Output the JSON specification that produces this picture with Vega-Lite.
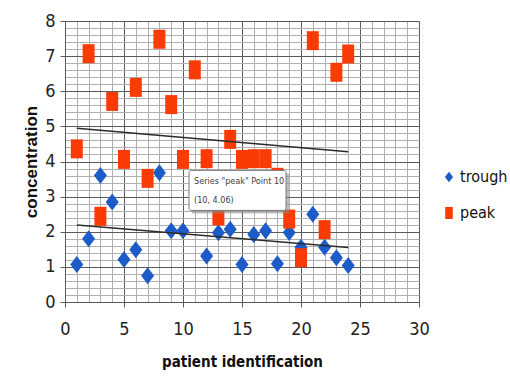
{
  "$schema": "https://vega.github.io/schema/vega-lite/v6.json",
  "width": 354,
  "height": 281,
  "autosize": {"type": "none"},
  "padding": {"left": 65, "top": 21, "right": 91, "bottom": 82},
  "background": "white",
  "config": {
    "view": {"stroke": null},
    "font": "Liberation Sans Narrow, DejaVu Sans Condensed, sans-serif"
  },
  "datasets": {
    "points": [
      {"x": 1, "series": "trough", "value": 1.07},
      {"x": 2, "series": "trough", "value": 1.8},
      {"x": 3, "series": "trough", "value": 3.6},
      {"x": 4, "series": "trough", "value": 2.85},
      {"x": 5, "series": "trough", "value": 1.21},
      {"x": 6, "series": "trough", "value": 1.49},
      {"x": 7, "series": "trough", "value": 0.75},
      {"x": 8, "series": "trough", "value": 3.68},
      {"x": 9, "series": "trough", "value": 2.03},
      {"x": 10, "series": "trough", "value": 2.03},
      {"x": 11, "series": "trough", "value": 3.1},
      {"x": 12, "series": "trough", "value": 1.31},
      {"x": 13, "series": "trough", "value": 1.97},
      {"x": 14, "series": "trough", "value": 2.07},
      {"x": 15, "series": "trough", "value": 1.07},
      {"x": 16, "series": "trough", "value": 1.92},
      {"x": 17, "series": "trough", "value": 2.03},
      {"x": 18, "series": "trough", "value": 1.09},
      {"x": 19, "series": "trough", "value": 1.98},
      {"x": 20, "series": "trough", "value": 1.56},
      {"x": 21, "series": "trough", "value": 2.5},
      {"x": 22, "series": "trough", "value": 1.56},
      {"x": 23, "series": "trough", "value": 1.26},
      {"x": 24, "series": "trough", "value": 1.04},
      {"x": 1, "series": "peak", "value": 4.36},
      {"x": 2, "series": "peak", "value": 7.07},
      {"x": 3, "series": "peak", "value": 2.44},
      {"x": 4, "series": "peak", "value": 5.71},
      {"x": 5, "series": "peak", "value": 4.06},
      {"x": 6, "series": "peak", "value": 6.11},
      {"x": 7, "series": "peak", "value": 3.52},
      {"x": 8, "series": "peak", "value": 7.48},
      {"x": 9, "series": "peak", "value": 5.62},
      {"x": 10, "series": "peak", "value": 4.06},
      {"x": 11, "series": "peak", "value": 6.61},
      {"x": 12, "series": "peak", "value": 4.08},
      {"x": 13, "series": "peak", "value": 2.45},
      {"x": 14, "series": "peak", "value": 4.63},
      {"x": 15, "series": "peak", "value": 4.06},
      {"x": 16, "series": "peak", "value": 4.08},
      {"x": 17, "series": "peak", "value": 4.08},
      {"x": 18, "series": "peak", "value": 3.55},
      {"x": 19, "series": "peak", "value": 2.36},
      {"x": 20, "series": "peak", "value": 1.26},
      {"x": 21, "series": "peak", "value": 7.44},
      {"x": 22, "series": "peak", "value": 2.06},
      {"x": 23, "series": "peak", "value": 6.54},
      {"x": 24, "series": "peak", "value": 7.06}
    ],
    "tip": [
      {"x": 10, "value": 4.06, "line1": "Series \"peak\" Point 10", "line2": "(10, 4.06)"}
    ]
  },
  "resolve": {"axis": {"x": "independent", "y": "independent"}},
  "layer": [
    {
      "data": {"name": "points"},
      "mark": {"type": "point", "filled": true, "opacity": 1, "size": 361, "strokeWidth": 0},
      "encoding": {
        "x": {
          "field": "x", "type": "quantitative",
          "scale": {"domain": [0, 30], "nice": false, "zero": false},
          "axis": {
            "orient": "bottom", "values": [0,1,2,3,4,5,6,7,8,9,10,11,12,13,14,15,16,17,18,19,20,21,22,23,24,25,26,27,28,29,30],
            "grid": true, "gridColor": "#b0b0b0", "gridWidth": 1, "gridOpacity": 1,
            "labels": false, "ticks": false, "domain": false, "title": null
          }
        },
        "y": {
          "field": "value", "type": "quantitative",
          "scale": {"domain": [0, 8], "nice": false},
          "axis": {
            "orient": "left",
            "values": [0.2,0.4,0.6,0.8,1.2,1.4,1.6,1.8,2.2,2.4,2.6,2.8,3.2,3.4,3.6,3.8,4.2,4.4,4.6,4.8,5.2,5.4,5.6,5.8,6.2,6.4,6.6,6.8,7.2,7.4,7.6,7.8],
            "grid": true, "gridColor": "#b0b0b0", "gridWidth": 1, "gridOpacity": 1,
            "labels": false, "ticks": false, "domain": false, "title": null
          }
        },
        "color": {
          "field": "series", "type": "nominal",
          "scale": {"domain": ["trough", "peak"], "range": ["#1d5cc8", "#fb3b05"]},
          "legend": {
            "orient": "none", "legendX": 376, "legendY": 148, "title": null,
            "labelFontSize": 16, "labelColor": "#111", "symbolSize": 144,
            "rowPadding": 20, "labelOffset": 3, "symbolStrokeWidth": 0
          }
        },
        "shape": {
          "field": "series", "type": "nominal",
          "scale": {"domain": ["trough", "peak"], "range": ["M0,-0.895L0.684,0L0,0.895L-0.684,0Z", "M-0.63,-1L0.63,-1L0.63,1L-0.63,1Z"]}
        }
      }
    },
    {
      "data": {"name": "points"},
      "transform": [{"regression": "value", "on": "x", "groupby": ["series"], "extent": [1, 24]}],
      "mark": {"type": "line", "color": "#2b2b2b", "strokeWidth": 1.5},
      "encoding": {
        "x": {
          "field": "x", "type": "quantitative",
          "axis": {
            "orient": "bottom", "values": [0,5,10,15,20,25,30],
            "grid": true, "gridColor": "#5a5a5a", "gridWidth": 1, "gridOpacity": 1,
            "domain": true, "domainColor": "#5a5a5a",
            "ticks": true, "tickColor": "#5a5a5a", "tickSize": 5,
            "labelFontSize": 18, "labelColor": "#222", "labelPadding": 13, "labelFlush": false,
            "labelFont": "Liberation Sans Narrow, DejaVu Sans Condensed, sans-serif",
            "title": "patient identification",
            "titleFont": "Liberation Sans Narrow, DejaVu Sans Condensed, sans-serif",
            "titleFontSize": 15, "titleFontWeight": "bold", "titleColor": "#111", "titlePadding": 16
          }
        },
        "y": {
          "field": "value", "type": "quantitative",
          "axis": {
            "orient": "left", "values": [0,1,2,3,4,5,6,7,8],
            "grid": true, "gridColor": "#5a5a5a", "gridWidth": 1, "gridOpacity": 1,
            "domain": true, "domainColor": "#5a5a5a",
            "ticks": true, "tickColor": "#5a5a5a", "tickSize": 5,
            "labelFontSize": 18, "labelColor": "#222", "labelPadding": 5, "labelFlush": false,
            "labelFont": "Liberation Sans Narrow, DejaVu Sans Condensed, sans-serif",
            "title": "concentration",
            "titleFont": "Liberation Sans, Arial, sans-serif",
            "titleFontSize": 17, "titleFontWeight": "bold", "titleColor": "#111", "titlePadding": 4
          }
        },
        "detail": {"field": "series", "type": "nominal"}
      }
    },
    {
      "data": {"name": "tip"},
      "mark": {"type": "rect", "fill": "#8a8a8a", "opacity": 0.55, "xOffset": 9, "x2Offset": 106, "yOffset": 14, "y2Offset": 54},
      "encoding": {
        "x": {"field": "x", "type": "quantitative", "axis": null},
        "x2": {"field": "x"},
        "y": {"field": "value", "type": "quantitative", "axis": null},
        "y2": {"field": "value"}
      }
    },
    {
      "data": {"name": "tip"},
      "mark": {"type": "rect", "fill": "white", "stroke": "#7a7a7a", "strokeWidth": 1, "cornerRadius": 2, "xOffset": 6, "x2Offset": 103, "yOffset": 11, "y2Offset": 51},
      "encoding": {
        "x": {"field": "x", "type": "quantitative", "axis": null},
        "x2": {"field": "x"},
        "y": {"field": "value", "type": "quantitative", "axis": null},
        "y2": {"field": "value"}
      }
    },
    {
      "data": {"name": "tip"},
      "mark": {"type": "text", "align": "left", "baseline": "middle", "dx": 11, "dy": 22, "fontSize": 9, "color": "#404040", "font": "Liberation Sans Narrow, DejaVu Sans Condensed, sans-serif"},
      "encoding": {
        "x": {"field": "x", "type": "quantitative", "axis": null},
        "y": {"field": "value", "type": "quantitative", "axis": null},
        "text": {"field": "line1"}
      }
    },
    {
      "data": {"name": "tip"},
      "mark": {"type": "text", "align": "left", "baseline": "middle", "dx": 11, "dy": 41, "fontSize": 9, "color": "#404040", "font": "Liberation Sans Narrow, DejaVu Sans Condensed, sans-serif"},
      "encoding": {
        "x": {"field": "x", "type": "quantitative", "axis": null},
        "y": {"field": "value", "type": "quantitative", "axis": null},
        "text": {"field": "line2"}
      }
    }
  ]
}
